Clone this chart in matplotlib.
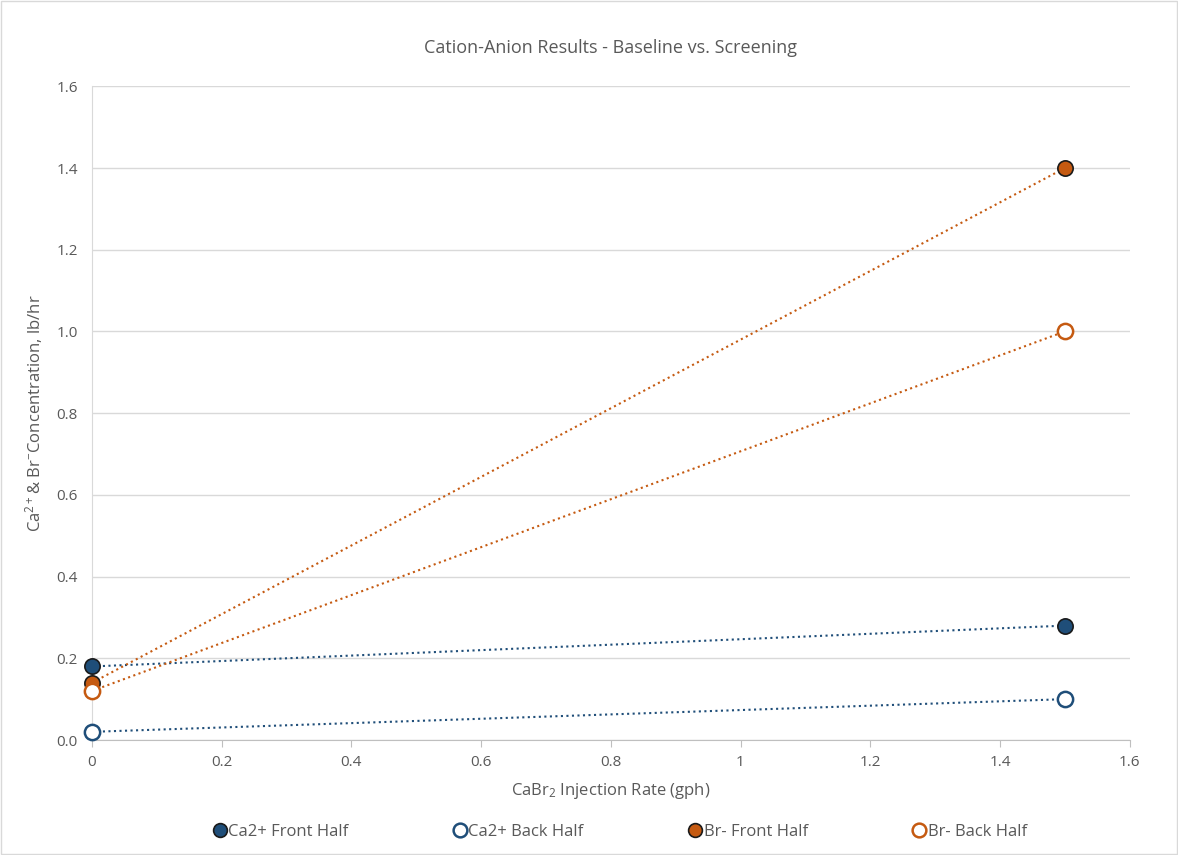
import matplotlib.pyplot as plt

plt.rcParams['font.family'] = ['Open Sans', 'DejaVu Sans']
plt.rcParams['mathtext.default'] = 'regular'

rate = [0, 1.5]
ca_front = [0.18, 0.28]
ca_back = [0.02, 0.10]
br_front = [0.14, 1.40]
br_back = [0.12, 1.00]

blue = '#1F4E79'
orange = '#C55A11'
txt = '#595959'

fig = plt.figure(figsize=(11.78, 8.55), dpi=100)
ax = fig.add_axes([0.078, 0.1345, 0.881, 0.7645])

ax.plot(rate, ca_front, ':', color=blue, lw=1.5, marker='o', ms=11,
        mfc=blue, mec='#1a1a1a', mew=1.2, label='Ca2+ Front Half', zorder=3,
        clip_on=False)
ax.plot(rate, ca_back, ':', color=blue, lw=1.5, marker='o', ms=11,
        mfc='white', mec=blue, mew=1.8, label='Ca2+ Back Half', zorder=3,
        clip_on=False)
ax.plot(rate, br_front, ':', color=orange, lw=1.5, marker='o', ms=11,
        mfc=orange, mec='#1a1a1a', mew=1.2, label='Br- Front Half', zorder=3,
        clip_on=False)
ax.plot(rate, br_back, ':', color=orange, lw=1.5, marker='o', ms=11,
        mfc='white', mec=orange, mew=1.8, label='Br- Back Half', zorder=3,
        clip_on=False)

ax.set_xlim(0, 1.6)
ax.set_ylim(0, 1.6)
xt = [0, 0.2, 0.4, 0.6, 0.8, 1, 1.2, 1.4, 1.6]
ax.set_xticks(xt)
ax.set_xticklabels(['0', '0.2', '0.4', '0.6', '0.8', '1', '1.2', '1.4', '1.6'])
ax.set_yticks([i * 0.2 for i in range(9)])
ax.set_yticklabels([f'{i * 0.2:.1f}' for i in range(9)])
ax.tick_params(axis='both', colors=txt, labelsize=11)
ax.tick_params(axis='x', length=5, color='#bfbfbf', pad=6)
ax.tick_params(axis='y', length=0, pad=10)
ax.grid(axis='y', color='#d9d9d9', lw=1)
ax.set_axisbelow(True)
for s in ['top', 'right']:
    ax.spines[s].set_visible(False)
ax.spines['left'].set_color('#d9d9d9')
ax.spines['bottom'].set_color('#bfbfbf')

ax.set_title('Cation-Anion Results - Baseline vs. Screening', color=txt,
             fontsize=13, pad=24)
ax.set_xlabel('CaBr$_2$ Injection Rate (gph)', color=txt, fontsize=12, labelpad=8)
ax.set_ylabel('Ca$^{2+}$& Br$^{-}$Concentration, lb/hr', color=txt, fontsize=12,
              labelpad=8)

leg = fig.legend(loc='lower center', bbox_to_anchor=(0.527, 0.0), ncol=4,
                 frameon=False, fontsize=12, handlelength=0.6,
                 handletextpad=0.2, columnspacing=6.4, markerscale=0.9)
for t in leg.get_texts():
    t.set_color(txt)
for h in leg.legend_handles:
    h.set_linestyle('none')

fig.patches.append(plt.Rectangle((0.001, 0.001), 0.998, 0.998,
                                 transform=fig.transFigure, fill=False,
                                 ec='#d9d9d9', lw=1))

fig.savefig('out.png', dpi=100)
